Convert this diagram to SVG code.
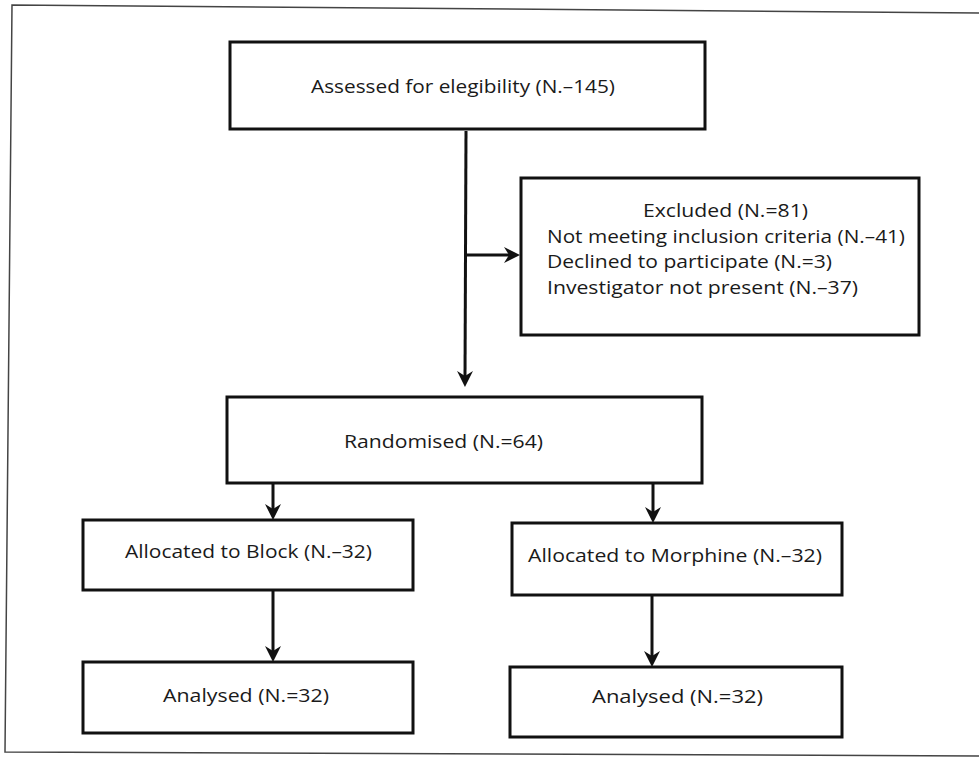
<svg xmlns="http://www.w3.org/2000/svg" width="979" height="762" viewBox="0 0 979 762">
<defs>
<style>
.box{fill:#fff;stroke:#111;stroke-width:3}
.t{font-family:"Open Sans","Noto Sans","Liberation Sans",sans-serif;font-size:19px;fill:#1a1a1a}
.ln{fill:none;stroke:#111;stroke-width:3}
.frame{fill:none;stroke:#444;stroke-width:1.5}
</style>
<marker id="ah" markerUnits="userSpaceOnUse" markerWidth="18" markerHeight="18" refX="9" refY="8" orient="auto">
<path d="M0,0 L16,8 L0,16 L5,8 Z" fill="#111"/>
</marker>
</defs>
<rect width="979" height="762" fill="#fff"/>
<path class="frame" d="M979,13 L12,5 L5,752 L979,756"/>

<g id="connectors">
<path class="ln" d="M466,131 L465,380" marker-end="url(#ah)"/>
<path class="ln" d="M465,255 L513,255" marker-end="url(#ah)"/>
<path class="ln" d="M273,483 L273,513" marker-end="url(#ah)"/>
<path class="ln" d="M653,483 L653,516" marker-end="url(#ah)"/>
<path class="ln" d="M273,590 L273,655" marker-end="url(#ah)"/>
<path class="ln" d="M652,595 L652,660" marker-end="url(#ah)"/>
</g>

<g id="assessed">
<rect class="box" x="230" y="42" width="475" height="87"/>
<text class="t" x="311" y="93" textLength="304" lengthAdjust="spacingAndGlyphs">Assessed for elegibility  (N.–145)</text>
</g>

<g id="excluded">
<rect class="box" x="521" y="178" width="398" height="157"/>
<text class="t" x="643" y="217" textLength="165" lengthAdjust="spacingAndGlyphs">Excluded  (N.=81)</text>
<text class="t" x="547" y="243" textLength="358" lengthAdjust="spacingAndGlyphs">Not meeting inclusion criteria (N.–41)</text>
<text class="t" x="547" y="268" textLength="285" lengthAdjust="spacingAndGlyphs">Declined to participate  (N.=3)</text>
<text class="t" x="547" y="294" textLength="311" lengthAdjust="spacingAndGlyphs">Investigator not present (N.–37)</text>
</g>

<g id="randomised">
<rect class="box" x="227" y="397" width="475" height="86"/>
<text class="t" x="344" y="448" textLength="199" lengthAdjust="spacingAndGlyphs">Randomised  (N.=64)</text>
</g>

<g id="block">
<rect class="box" x="83" y="520" width="330" height="70"/>
<text class="t" x="125" y="558" textLength="247" lengthAdjust="spacingAndGlyphs">Allocated to Block  (N.–32)</text>
</g>

<g id="morphine">
<rect class="box" x="512" y="523" width="330" height="72"/>
<text class="t" x="528" y="562" textLength="294" lengthAdjust="spacingAndGlyphs">Allocated to Morphine  (N.–32)</text>
</g>

<g id="analysed-block">
<rect class="box" x="83" y="662" width="330" height="71"/>
<text class="t" x="163" y="702" textLength="166" lengthAdjust="spacingAndGlyphs">Analysed  (N.=32)</text>
</g>

<g id="analysed-morphine">
<rect class="box" x="510" y="667" width="332" height="70"/>
<text class="t" x="592" y="703" textLength="171" lengthAdjust="spacingAndGlyphs">Analysed   (N.=32)</text>
</g>
</svg>
